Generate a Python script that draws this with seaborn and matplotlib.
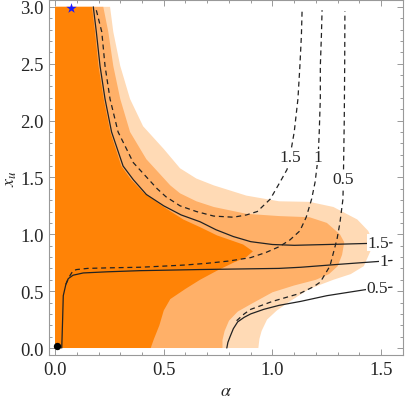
import numpy as np
import matplotlib
matplotlib.use("Agg")
import matplotlib.pyplot as plt
import seaborn as sns
from matplotlib.ticker import MultipleLocator

# region boundaries (alpha, x_u)
light_a = [0, 0, 0.253, 0.268, 0.3, 0.345, 0.405, 0.5, 0.575, 0.65, 0.73, 0.88, 1.03, 1.17, 1.28,
           1.39, 1.44, 1.457, 1.45, 1.42, 1.36, 1.28, 1.17, 1.08, 1.02, 0.975, 0.95, 0.94, 0.935]
light_x = [0, 3, 3.0, 2.78, 2.48, 2.19, 1.95, 1.75, 1.58, 1.49, 1.43, 1.34, 1.29, 1.285, 1.24,
           1.13, 1.03, 0.96, 0.85, 0.72, 0.65, 0.6, 0.52, 0.41, 0.33, 0.25, 0.15, 0.08, 0]

mid_a = [0, 0, 0.222, 0.245, 0.268, 0.3, 0.345, 0.42, 0.53, 0.575, 0.65, 0.73, 0.88, 1.03, 1.17,
         1.25, 1.31, 1.33, 1.32, 1.3, 1.26, 1.2, 1.1, 1.0, 0.9, 0.84, 0.8, 0.78, 0.77, 0.77]
mid_x = [0, 3, 3.0, 2.78, 2.48, 2.19, 1.9, 1.66, 1.43, 1.36, 1.29, 1.24, 1.18, 1.16, 1.15,
         1.1, 1.0, 0.93, 0.82, 0.72, 0.65, 0.6, 0.55, 0.49, 0.385, 0.32, 0.24, 0.15, 0.07, 0]

dark_a = [0, 0, 0.17, 0.184, 0.2, 0.224, 0.254, 0.305, 0.35, 0.41, 0.5, 0.59, 0.67, 0.745, 0.82,
          0.865, 0.91, 0.88, 0.82, 0.745, 0.667, 0.6, 0.53, 0.5, 0.48, 0.455, 0.44]
dark_x = [0, 3, 3.0, 2.78, 2.48, 2.19, 1.9, 1.6, 1.48, 1.36, 1.24, 1.13, 1.06, 0.99, 0.94,
          0.91, 0.85, 0.8, 0.75, 0.68, 0.6, 0.52, 0.43, 0.33, 0.2, 0.08, 0]

# solid contours
s15_a = [0.176, 0.19, 0.207, 0.23, 0.26, 0.313, 0.36, 0.42, 0.5, 0.58, 0.667, 0.74, 0.82, 0.9,
         1.0, 1.1, 1.25, 1.45, 1.55]
s15_x = [3.0, 2.78, 2.48, 2.19, 1.9, 1.6, 1.48, 1.35, 1.25, 1.17, 1.11, 1.04, 0.98, 0.935,
         0.91, 0.903, 0.91, 0.92, 0.925]
s1_a = [0.031, 0.035, 0.038, 0.05, 0.061, 0.083, 0.13, 0.24, 0.39, 0.67, 1.03, 1.13, 1.3, 1.48, 1.55]
s1_x = [0.0, 0.25, 0.46, 0.56, 0.61, 0.64, 0.66, 0.67, 0.68, 0.69, 0.70, 0.71, 0.735, 0.76, 0.77]
s05_a = [0.79, 0.795, 0.805, 0.82, 0.84, 0.87, 0.9, 0.96, 1.03, 1.13, 1.25, 1.35, 1.45, 1.55]
s05_x = [0.0, 0.05, 0.1, 0.17, 0.23, 0.27, 0.30, 0.34, 0.375, 0.41, 0.46, 0.49, 0.52, 0.535]

# dashed contours
d15_a = [0.19, 0.215, 0.23, 0.253, 0.29, 0.36, 0.47, 0.51, 0.575, 0.65, 0.73, 0.82, 0.88, 0.93,
         0.99, 1.035, 1.067, 1.08, 1.1, 1.117, 1.126, 1.133, 1.136]
d15_x = [2.97, 2.78, 2.48, 2.19, 1.9, 1.63, 1.4, 1.33, 1.25, 1.2, 1.16, 1.15, 1.17, 1.2,
         1.31, 1.46, 1.57, 1.68, 1.9, 2.19, 2.48, 2.75, 2.96]
d1_a = [0.05, 0.061, 0.07, 0.083, 0.1, 0.15, 0.25, 0.39, 0.5, 0.6, 0.7, 0.8, 0.9, 0.97, 1.03,
        1.08, 1.126, 1.155, 1.18, 1.196, 1.21, 1.215, 1.22, 1.22, 1.225, 1.228]
d1_x = [0.56, 0.61, 0.64, 0.68, 0.69, 0.70, 0.705, 0.71, 0.72, 0.73, 0.745, 0.765, 0.795, 0.84,
        0.89, 0.95, 1.03, 1.15, 1.31, 1.46, 1.68, 1.9, 2.2, 2.48, 2.75, 2.97]
d05_a = [0.835, 0.87, 0.9, 1.0, 1.126, 1.19, 1.22, 1.264, 1.297, 1.31, 1.324, 1.326, 1.33, 1.332, 1.333]
d05_x = [0.24, 0.30, 0.34, 0.41, 0.48, 0.54, 0.58, 0.72, 0.96, 1.1, 1.31, 1.49, 2.0, 2.5, 2.96]

solid_labels = ["1.5", "1", "0.5"]
solid_lab_a = [1.485, 1.51, 1.48]
solid_lab_x = [0.925, 0.765, 0.53]
dash_labels = ["1.5", "1", "0.5"]
dash_lab_a = [1.08, 1.21, 1.324]
dash_lab_x = [1.68, 1.68, 1.49]

dot_pt = (0.01, 0.02)
star_pt = (0.074, 2.99)

sns.set_theme(style="ticks")
plt.rcParams['font.family'] = ['Liberation Serif', 'DejaVu Serif']
plt.rcParams['mathtext.fontset'] = 'stix'

fig = plt.figure(figsize=(4.05, 4.02), dpi=100)
ax = fig.add_axes([0.121, 0.1144, 0.874, 0.882])

ax.fill(light_a, light_x, color="#FFDAB5", lw=0, zorder=1)
ax.fill(mid_a, mid_x, color="#FFB068", lw=0, zorder=2)
ax.fill(dark_a, dark_x, color="#FF8306", lw=0, zorder=3)

for xa, ya in [(s15_a, s15_x), (s1_a, s1_x), (s05_a, s05_x)]:
    sns.lineplot(x=xa, y=ya, sort=False, estimator=None, color="#222222", lw=0.9, ax=ax, zorder=5)
for xa, ya in [(d15_a, d15_x), (d1_a, d1_x), (d05_a, d05_x)]:
    sns.lineplot(x=xa, y=ya, sort=False, estimator=None, color="#222222", lw=0.9,
                 linestyle=(0, (4, 3)), ax=ax, zorder=5)

for t, a, x in zip(solid_labels, solid_lab_a, solid_lab_x):
    ax.text(a, x, t, ha="center", va="center", fontsize=12.5, zorder=6,
            bbox=dict(fc="white", ec="none", pad=0.2))
for t, a, x in zip(dash_labels, dash_lab_a, dash_lab_x):
    ax.text(a, x, t, ha="center", va="center", fontsize=12.5, zorder=6,
            bbox=dict(fc="white", ec="none", pad=0.2))

sns.scatterplot(x=[dot_pt[0]], y=[dot_pt[1]], color="black", s=28, ax=ax, zorder=7, linewidth=0)
sns.scatterplot(x=[star_pt[0]], y=[star_pt[1]], color="#1a1aff", marker="*", s=60, ax=ax,
                zorder=7, linewidth=0)

ax.set_xlim(-0.0276, 1.60)
ax.set_ylim(-0.0616, 3.056)
ax.xaxis.set_major_locator(MultipleLocator(0.5))
ax.xaxis.set_minor_locator(MultipleLocator(0.1))
ax.yaxis.set_major_locator(MultipleLocator(0.5))
ax.yaxis.set_minor_locator(MultipleLocator(0.1))
ax.xaxis.set_major_formatter(matplotlib.ticker.FormatStrFormatter("%.1f"))
ax.yaxis.set_major_formatter(matplotlib.ticker.FormatStrFormatter("%.1f"))
ax.tick_params(which="both", direction="in", top=True, right=True, color="#999999",
               labelsize=13.5, width=0.7)
ax.tick_params(which="major", length=4.5, pad=4)
ax.tick_params(which="minor", length=2.5)
for sp in ax.spines.values():
    sp.set_color("#999999")
    sp.set_linewidth(0.8)

ax.set_xlabel(r"$\alpha$", fontsize=13, labelpad=3)
ax.set_ylabel(r"$x_u$", fontsize=13, labelpad=1)

fig.savefig("out.png", dpi=100)
